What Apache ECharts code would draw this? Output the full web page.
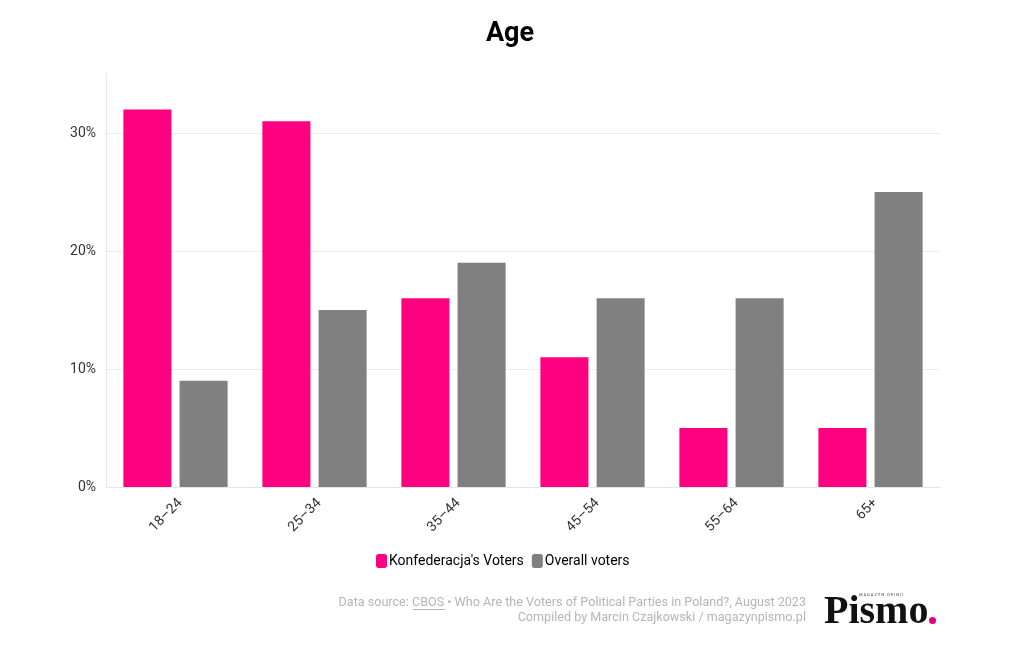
<!DOCTYPE html>
<html><head><meta charset="utf-8">
<script src="https://cdn.jsdelivr.net/npm/echarts@6/dist/echarts.min.js"></script>
<style>html,body{margin:0;padding:0;background:#fff}#c{width:1020px;height:650px}</style>
</head><body><div id="c"></div>
<script>
const categories = ['18–24', '25–34', '35–44', '45–54', '55–64', '65+'];
const konfederacja = [32, 31, 16, 11, 5, 5];
const overall = [9, 15, 19, 16, 16, 25];
const yTicks = [0, 10, 20, 30];

const chart = echarts.init(document.getElementById('c'));
const font = 'Roboto, "Noto Sans", sans-serif';
chart.setOption({
  backgroundColor: '#fff',
  animation: false,
  title: {
    text: 'Age', left: 'center', top: 16,
    textStyle: { fontFamily: font, fontSize: 27, fontWeight: 'bold', color: '#000' }
  },
  legend: {
    bottom: 77, left: 371, itemWidth: 11, itemHeight: 14, itemGap: 8,
    icon: 'roundRect',
    textStyle: { fontFamily: font, fontSize: 14, color: '#000', padding: [0, 0, 0, -3] },
    data: ["Konfederacja's Voters", 'Overall voters']
  },
  grid: { left: 106, right: 80, top: 74, bottom: 163, containLabel: false },
  xAxis: {
    type: 'category', data: categories,
    axisLine: { lineStyle: { color: '#e6e6e6' } },
    axisTick: { show: false },
    axisLabel: { rotate: 45, fontFamily: font, fontSize: 14, color: '#333', margin: 9, verticalAlign: 'top' }
  },
  yAxis: {
    type: 'value', min: 0, max: 35, interval: 10,
    axisLine: { show: true, lineStyle: { color: '#e6e6e6' } },
    splitLine: { lineStyle: { color: ['#ececec', '#ececec', '#ececec', '#ececec', 'rgba(0,0,0,0)'] } },
    axisLabel: {
      fontFamily: font, fontSize: 14, color: '#333', margin: 10,
      formatter: v => yTicks.includes(v) ? v + '%' : ''
    }
  },
  series: [
    { name: "Konfederacja's Voters", type: 'bar', data: konfederacja,
      itemStyle: { color: '#ff0080' }, barGap: '17%', barCategoryGap: '25%' },
    { name: 'Overall voters', type: 'bar', data: overall,
      itemStyle: { color: '#808080' } }
  ],
  graphic: [
    { type: 'text', right: 214, top: 596, style: {
      text: 'Data source: CBOS • Who Are the Voters of Political Parties in Poland?, August 2023',
      fontFamily: font, fontSize: 12.6, fill: '#b5b5b5', align: 'right'
    } },
    { type: 'line', shape: { x1: 413, y1: 609.5, x2: 445, y2: 609.5 }, style: { stroke: '#b5b5b5', lineWidth: 1 } },
    { type: 'text', right: 214, top: 611, style: {
      text: 'Compiled by Marcin Czajkowski / magazynpismo.pl',
      fontFamily: font, fontSize: 12.6, fill: '#b5b5b5', align: 'right'
    } },
    { type: 'text', left: 824, top: 593, style: {
      text: 'Pismo', fontFamily: '"Liberation Serif", "DejaVu Serif", serif', fontSize: 40, fontWeight: 'bold', fill: '#111'
    } },
    { type: 'circle', shape: { cx: 932.5, cy: 620.5, r: 3.5 }, style: { fill: '#e5007e' } },
    { type: 'text', left: 859, top: 593, style: {
      text: 'M A G A Z Y N   O P I N I I', fontFamily: font, fontSize: 4, fill: '#444'
    } }
  ]
});
</script></body></html>
